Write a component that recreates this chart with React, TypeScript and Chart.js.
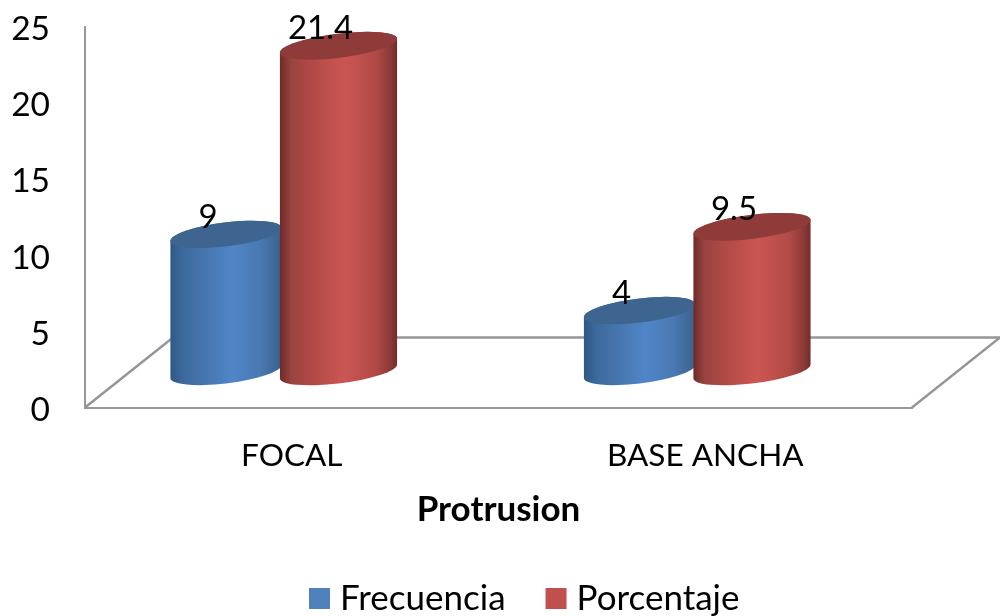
import React, { useEffect, useRef } from "react";
import { Chart, registerables } from "chart.js";

Chart.register(...registerables);

const categories = ["FOCAL", "BASE ANCHA"];
const frecuencia = [9, 4];
const porcentaje = [21.4, 9.5];
const yTicksMax = 25;
const FONT = "Lato, 'Open Sans', sans-serif";

const skins = [
  {
    top: "#3e658f",
    stops: [[0, "#2f5784"], [0.12, "#3d6a9e"], [0.3, "#4675ad"], [0.55, "#5085c7"], [0.8, "#4a79b3"], [1, "#3a618d"]],
    rx: 56,
  },
  {
    top: "#8f3b39",
    stops: [[0, "#6a2a28"], [0.1, "#9a4340"], [0.3, "#b44b47"], [0.55, "#cb5653"], [0.82, "#b14a46"], [0.94, "#8a3936"], [1, "#6f2c2a"]],
    rx: 59,
  },
];

const cylinderPlugin = {
  id: "cylinders",
  beforeDatasetsDraw(chart: any) {
    const { ctx, chartArea: a } = chart;
    const depthX = 88;
    const depthY = 70;
    ctx.save();
    ctx.strokeStyle = "#969696";
    ctx.lineWidth = 2.5;
    ctx.beginPath();
    ctx.moveTo(a.left, a.bottom);
    ctx.lineTo(a.left + depthX, a.bottom - depthY);
    ctx.lineTo(a.right + depthX, a.bottom - depthY);
    ctx.lineTo(a.right, a.bottom);
    ctx.stroke();
    ctx.restore();
  },
  beforeDatasetDraw() {
    return false;
  },
  afterDatasetsDraw(chart: any) {
    const { ctx } = chart;
    const shiftX = -9.5;
    const ry = 12;
    const phi = (-7 * Math.PI) / 180;
    chart.data.datasets.forEach((ds: any, di: number) => {
      const skin = skins[di];
      const meta = chart.getDatasetMeta(di);
      meta.data.forEach((el: any) => {
        const cx = el.x + shiftX;
        const rx = skin.rx;
        const t0 = Math.atan(-(ry / rx) * Math.tan(phi));
        const g = ctx.createLinearGradient(cx - rx, 0, cx + rx, 0);
        skin.stops.forEach(([o, c]: any) => g.addColorStop(o, c));
        ctx.save();
        ctx.fillStyle = g;
        ctx.beginPath();
        ctx.ellipse(cx, el.base, rx, ry, phi, t0, t0 + Math.PI, false);
        ctx.ellipse(cx, el.y, rx, ry, phi, t0 + Math.PI, t0 + 2 * Math.PI, false);
        ctx.closePath();
        ctx.fill();
        ctx.fillStyle = skin.top;
        ctx.beginPath();
        ctx.ellipse(cx, el.y, rx, ry, phi, 0, 2 * Math.PI);
        ctx.fill();
        ctx.restore();
      });
    });
    chart.data.datasets.forEach((ds: any, di: number) => {
      const meta = chart.getDatasetMeta(di);
      meta.data.forEach((el: any, i: number) => {
        ctx.save();
        ctx.fillStyle = "#000";
        ctx.font = `33px ${FONT}`;
        ctx.textAlign = "center";
        ctx.textBaseline = "middle";
        ctx.fillText(String(ds.data[i]), el.x + shiftX - 18, el.y - 17);
        ctx.restore();
      });
    });
  },
};

export default function App() {
  const ref = useRef<HTMLCanvasElement>(null);
  useEffect(() => {
    const chart = new Chart(ref.current as any, {
      type: "bar",
      data: {
        labels: categories,
        datasets: [
          { label: "Frecuencia", data: frecuencia, backgroundColor: "#4F81BD", yAxisID: "yBars" },
          { label: "Porcentaje", data: porcentaje, backgroundColor: "#C0504D", yAxisID: "yBars" },
        ],
      },
      plugins: [cylinderPlugin as any],
      options: {
        animation: false,
        responsive: false,
        devicePixelRatio: 1,
        layout: { padding: { left: 0, top: 27, right: -56, bottom: -10 } },
        datasets: { bar: { categoryPercentage: 0.544, barPercentage: 1 } },
        plugins: {
          tooltip: { enabled: false },
          legend: {
            position: "bottom",
            labels: {
              usePointStyle: true,
              pointStyle: "rect",
              boxWidth: 6,
              boxHeight: 21,
              padding: 47.5,
              color: "#000",
              font: { family: FONT, size: 35 },
            },
          },
        },
        scales: {
          x: {
            grid: { display: false },
            border: { color: "#999999", width: 2 },
            ticks: { color: "#000", font: { family: FONT, size: 31.5 }, padding: 21, maxRotation: 0 },
            title: {
              display: true,
              text: "Protrusion",
              color: "#000",
              font: { family: FONT, size: 35, weight: "bold" },
              padding: { top: 0, bottom: 3 },
            },
            afterFit(scale: any) {
              scale.height = 126;
            },
          },
          y: {
            position: "left",
            min: 0,
            max: yTicksMax,
            grid: { display: false, drawTicks: false },
            border: { color: "#999999", width: 2 },
            ticks: { stepSize: 5, color: "#000", font: { family: FONT, size: 33.5 }, padding: 35 },
            afterFit(scale: any) {
              scale.width = 85;
              scale.paddingTop = 0;
              scale.paddingBottom = 0;
              const compute = scale._computeLabelItems;
              if (!scale._nudged) {
                scale._nudged = true;
                scale._computeLabelItems = function (area: any) {
                  const items = compute.call(this, area);
                  items.forEach((it: any) => {
                    it.options.translation = [it.options.translation[0], it.options.translation[1] + 2.5];
                  });
                  return items;
                };
              }
            },
          },
          yBars: {
            position: "right",
            min: -2.37,
            max: 22.63,
            grid: { display: false, drawTicks: false },
            border: { display: false },
            ticks: { display: false },
            afterFit(scale: any) {
              scale.width = 144;
            },
          },
        },
      },
    });
    return () => chart.destroy();
  }, []);
  return (
    <div style={{ position: "absolute", left: 0, top: 0, width: 1000, height: 616, background: "#fff" }}>
      <canvas ref={ref} width={1000} height={616} style={{ display: "block" }} />
    </div>
  );
}
